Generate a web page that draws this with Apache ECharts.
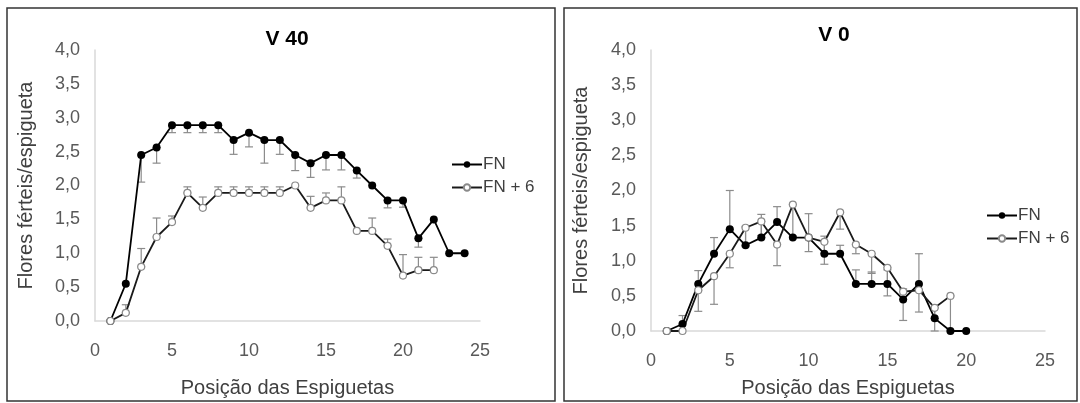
<!DOCTYPE html>
<html>
<head>
<meta charset="utf-8">
<script src="https://cdn.jsdelivr.net/npm/echarts@6/dist/echarts.min.js"></script>
<style>
html,body{margin:0;padding:0;background:#fff;}
#c{width:1080px;height:403px;}
</style>
</head>
<body>
<div id="c"></div>
<script>
// ---------- data ----------
const panelTitles = ['V 40', 'V 0'];
const seriesNames = ['FN', 'FN + 6'];
const xTicks = [0, 5, 10, 15, 20, 25];
const yTicks = [0, 0.5, 1, 1.5, 2, 2.5, 3, 3.5, 4];

// V 40  (FN: error bars below points, FN + 6: error bars above points)
const v40FNPos = [1,2,3,4,5,6,7,8,9,10,11,12,13,14,15,16,17,18,19,20,21,22,23,24];
const v40FN = [0,0.55,2.45,2.56,2.89,2.89,2.89,2.89,2.67,2.78,2.67,2.67,2.45,2.33,2.45,2.45,2.22,2.0,1.78,1.78,1.22,1.5,1.0,1.0];
const v40FNErrLow = [0,0,0.4,0.23,0.11,0.11,0.11,0.11,0.21,0.21,0.34,0.21,0.23,0.21,0.22,0.22,0.11,0,0.11,0.1,0.13,0,0,0];
const v40FN6Pos = [1,2,3,4,5,6,7,8,9,10,11,12,13,14,15,16,17,18,19,20,21,22];
const v40FN6 = [0,0.12,0.8,1.24,1.46,1.89,1.67,1.89,1.89,1.89,1.89,1.89,2.0,1.67,1.78,1.78,1.33,1.33,1.11,0.67,0.75,0.75];
const v40FN6ErrHigh = [0,0.12,0.27,0.28,0.09,0.09,0.16,0.09,0.09,0.09,0.09,0.09,0,0.17,0.11,0.2,0,0.19,0.1,0.31,0.19,0.19];

// V 0  (FN: error bars above points, FN + 6: error bars below points)
const v0FNPos = [1,2,3,4,5,6,7,8,9,10,11,12,13,14,15,16,17,18,19,20];
const v0FN = [0,0.1,0.67,1.1,1.45,1.22,1.33,1.55,1.33,1.33,1.1,1.1,0.67,0.67,0.67,0.45,0.67,0.18,0,0];
const v0FNErrHigh = [0,0.12,0.19,0.23,0.55,0.27,0.33,0.22,0,0.34,0.25,0.12,0.2,0.17,0.2,0.15,0.43,0.15,0,0];
const v0FN6Pos = [1,2,3,4,5,6,7,8,9,10,11,12,13,14,15,16,17,18,19];
const v0FN6 = [0,0,0.58,0.78,1.1,1.47,1.56,1.23,1.8,1.33,1.27,1.69,1.23,1.1,0.9,0.56,0.58,0.33,0.5];
const v0FN6ErrLow = [0,0,0.3,0.4,0.2,0.27,0.2,0.3,0.45,0.2,0.32,0.24,0.13,0.28,0.4,0.41,0.31,0.33,0.5];

// ---------- build ----------
const FONT = '"Liberation Sans", Arial, sans-serif';
const pairs = (xs, ys) => xs.map((x, i) => [x, ys[i]]);
const errData = (xs, ys, lo, hi) => xs.map((x, i) => [x, ys[i] - lo[i], ys[i] + hi[i]]);
const zeros = n => new Array(n).fill(0);

function errSeries(idx, data) {
  return {
    type: 'custom', xAxisIndex: idx, yAxisIndex: idx, z: 1, silent: true,
    data: data,
    renderItem: function (params, api) {
      const x = api.value(0), lo = api.value(1), hi = api.value(2);
      if (hi - lo < 1e-6) return null;
      const p1 = api.coord([x, lo]), p2 = api.coord([x, hi]);
      const w = 4;
      const st = { stroke: '#8c8c8c', lineWidth: 1.2 };
      return { type: 'group', children: [
        { type: 'line', shape: { x1: p1[0], y1: p1[1], x2: p2[0], y2: p2[1] }, style: st },
        { type: 'line', shape: { x1: p1[0]-w, y1: p1[1], x2: p1[0]+w, y2: p1[1] }, style: st },
        { type: 'line', shape: { x1: p2[0]-w, y1: p2[1], x2: p2[0]+w, y2: p2[1] }, style: st }
      ]};
    }
  };
}

function lineFN(idx, data) {
  return {
    name: seriesNames[0], type: 'line', xAxisIndex: idx, yAxisIndex: idx, z: 3,
    data: data, symbol: 'circle', symbolSize: 8,
    lineStyle: { color: '#000', width: 1.8 },
    itemStyle: { color: '#000', borderColor: '#000', borderWidth: 0 },
    emphasis: { disabled: true }
  };
}
function lineFN6(idx, data) {
  return {
    name: seriesNames[1], type: 'line', xAxisIndex: idx, yAxisIndex: idx, z: 3,
    data: data, symbol: 'circle', symbolSize: 7,
    lineStyle: { color: '#1a1a1a', width: 1.8 },
    itemStyle: { color: '#fff', borderColor: '#8a8a8a', borderWidth: 1.2 },
    emphasis: { disabled: true }
  };
}

function xAx(idx, gap) {
  return {
    type: 'value', gridIndex: idx, min: xTicks[0], max: xTicks[xTicks.length-1], interval: 5,
    name: 'Posição das Espiguetas', nameLocation: 'middle', nameGap: gap, nameMoveOverlap: false,
    nameTextStyle: { fontFamily: FONT, fontSize: 20, color: '#404040' },
    axisLine: { lineStyle: { color: '#d9d9d9', width: 1.5 } },
    axisTick: { show: false }, splitLine: { show: false },
    axisLabel: { fontFamily: FONT, fontSize: 18, color: '#595959', margin: 21 }
  };
}
function yAx(idx, gap) {
  return {
    type: 'value', gridIndex: idx, min: yTicks[0], max: yTicks[yTicks.length-1], interval: 0.5,
    name: 'Flores férteis/espigueta', nameLocation: 'middle', nameGap: gap, nameRotate: 90,
    nameMoveOverlap: false,
    nameTextStyle: { fontFamily: FONT, fontSize: 20, color: '#404040' },
    axisLine: { show: true, lineStyle: { color: '#d9d9d9', width: 1.5 } },
    axisTick: { show: false }, splitLine: { show: false },
    axisLabel: { fontFamily: FONT, fontSize: 18, color: '#595959', margin: 15,
      formatter: v => v.toFixed(1).replace('.', ',') }
  };
}

const option = {
  animation: false,
  backgroundColor: '#fff',
  graphic: [
    { type: 'rect', shape: { x: 7, y: 8, width: 548, height: 393 }, style: { fill: 'none', stroke: '#333', lineWidth: 1.5 }, z: -1 },
    { type: 'rect', shape: { x: 564, y: 8, width: 513, height: 393 }, style: { fill: 'none', stroke: '#333', lineWidth: 1.5 }, z: -1 }
  ],
  title: [
    { text: panelTitles[0], left: 282, top: 24, textAlign: 'center',
      textStyle: { fontFamily: FONT, fontSize: 21, fontWeight: 'bold', color: '#000' } },
    { text: panelTitles[1], left: 829, top: 20, textAlign: 'center',
      textStyle: { fontFamily: FONT, fontSize: 21, fontWeight: 'bold', color: '#000' } }
  ],
  legend: [
    { orient: 'vertical', left: 446, top: 151, itemGap: 6, itemWidth: 30, itemHeight: 8,
      data: seriesNames, selectedMode: false,
      textStyle: { fontFamily: FONT, fontSize: 17, color: '#404040', padding: [0, 0, 0, -4] } },
    { orient: 'vertical', left: 981, top: 202, itemGap: 6, itemWidth: 30, itemHeight: 8,
      data: seriesNames, selectedMode: false,
      textStyle: { fontFamily: FONT, fontSize: 17, color: '#404040', padding: [0, 0, 0, -4] } }
  ],
  grid: [
    { left: 95, right: 600, top: 50, bottom: 82 },
    { left: 651, right: 35, top: 50, bottom: 72 }
  ],
  xAxis: [xAx(0, 57), xAx(1, 47)],
  yAxis: [yAx(0, 59), yAx(1, 60)],
  series: [
    errSeries(0, errData(v40FNPos, v40FN, v40FNErrLow, zeros(v40FN.length))),
    errSeries(0, errData(v40FN6Pos, v40FN6, zeros(v40FN6.length), v40FN6ErrHigh)),
    lineFN(0, pairs(v40FNPos, v40FN)),
    lineFN6(0, pairs(v40FN6Pos, v40FN6)),
    errSeries(1, errData(v0FNPos, v0FN, zeros(v0FN.length), v0FNErrHigh)),
    errSeries(1, errData(v0FN6Pos, v0FN6, v0FN6ErrLow, zeros(v0FN6.length))),
    lineFN(1, pairs(v0FNPos, v0FN)),
    lineFN6(1, pairs(v0FN6Pos, v0FN6))
  ]
};
const chart = echarts.init(document.getElementById('c'), null, { renderer: 'canvas' });
chart.setOption(option);
</script>
</body>
</html>
